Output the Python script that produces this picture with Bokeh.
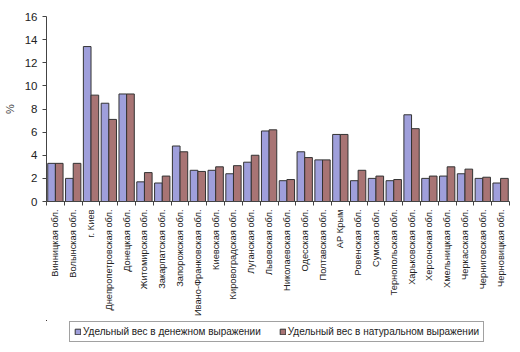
import math
from bokeh.plotting import figure
from bokeh.layouts import column
from bokeh.models import ColumnDataSource, FixedTicker, Range1d, Legend, LegendItem
from bokeh.embed import file_html
from bokeh.resources import INLINE

regions = ["Винницкая обл.", "Волынская обл.", "г. Киев", "Днепропетровская обл.",
           "Донецкая обл.", "Житомирская обл.", "Закарпатская обл.", "Запорожская обл.",
           "Ивано-Франковская обл.", "Киевская обл.", "Кировоградская обл.", "Луганская обл.",
           "Львовская обл.", "Николаевская обл.", "Одесская обл.", "Полтавская обл.",
           "АР Крым", "Ровенская обл.", "Сумская обл.", "Тернопольская обл.",
           "Харьковская обл.", "Херсонская обл.", "Хмельницкая обл.", "Черкасская обл.",
           "Черниговская обл.", "Черновицкая обл."]
money = [3.3, 2.0, 13.4, 8.5, 9.3, 1.7, 1.6, 4.8, 2.7, 2.7, 2.4, 3.4, 6.1,
         1.8, 4.3, 3.6, 5.8, 1.8, 2.0, 1.8, 7.5, 2.0, 2.2, 2.4, 2.0, 1.6]
natural = [3.3, 3.3, 9.2, 7.1, 9.3, 2.5, 2.2, 4.3, 2.6, 3.0, 3.1, 4.0, 6.2,
           1.9, 3.8, 3.6, 5.8, 2.7, 2.2, 1.9, 6.3, 2.2, 3.0, 2.8, 2.1, 2.0]
series_names = ["Удельный вес в денежном выражении", "Удельный вес в натуральном выражении"]
y_ticks = [0, 2, 4, 6, 8, 10, 12, 14, 16]

FONT = "Liberation Sans"
BLUE = "#9F9FDB"
RED = "#A87474"
EDGE = "#333333"
n = len(regions)
centers = [i + 0.5 for i in range(n)]
bw = 0.43
src = ColumnDataSource(dict(xm=[c - bw / 2 for c in centers], xn=[c + bw / 2 for c in centers],
                            money=money, natural=natural))

p = figure(width=520, height=320, output_backend="svg", toolbar_location=None,
           x_range=Range1d(0, n), y_range=Range1d(0, 16),
           min_border_left=43, min_border_right=11, min_border_top=16, min_border_bottom=119)
p.outline_line_color = None
p.grid.grid_line_color = None

p.vbar(x="xm", top="money", width=bw, source=src, fill_color=BLUE,
       line_color=EDGE, line_width=1)
p.vbar(x="xn", top="natural", width=bw, source=src, fill_color=RED,
       line_color=EDGE, line_width=1)

# y axis
p.yaxis.ticker = FixedTicker(ticks=y_ticks)
p.yaxis.axis_label = "%"
p.yaxis.axis_label_text_font = FONT
p.yaxis.axis_label_text_font_style = "normal"
p.yaxis.axis_label_text_font_size = "11px"
p.yaxis.axis_label_standoff = 6
p.yaxis.major_label_text_font = FONT
p.yaxis.major_label_text_font_size = "11.5px"
p.yaxis.major_label_text_color = "#222222"
p.yaxis.major_tick_in = 0
p.yaxis.major_tick_out = 4
p.yaxis.minor_tick_line_color = None
p.yaxis.axis_line_color = "#444444"
p.yaxis.major_tick_line_color = "#444444"

# x axis
p.xaxis.ticker = FixedTicker(ticks=centers, minor_ticks=list(range(n + 1)))
p.xaxis.major_label_overrides = {c: r for c, r in zip(centers, regions)}
p.xaxis.major_label_orientation = math.pi / 2
p.xaxis.major_label_text_font = FONT
p.xaxis.major_label_text_font_size = "9.3px"
p.xaxis.major_label_text_color = "#222222"
p.xaxis.major_label_standoff = 2
p.xaxis.major_tick_line_color = None
p.xaxis.minor_tick_in = 0
p.xaxis.minor_tick_out = 4
p.xaxis.minor_tick_line_color = "#444444"
p.xaxis.axis_line_color = "#444444"

# legend strip (its renderers use the same data, kept outside the strip's visible range)
pl = figure(width=520, height=32, output_backend="svg", toolbar_location=None,
            x_range=Range1d(n + 5, n + 6), y_range=Range1d(-2, -1),
            x_axis_location=None, y_axis_location=None, min_border=0)
pl.grid.grid_line_color = None
pl.outline_line_color = None
lr1 = pl.vbar(x="xm", top="money", width=bw, source=src, fill_color=BLUE, line_color=EDGE)
lr2 = pl.vbar(x="xn", top="natural", width=bw, source=src, fill_color=RED, line_color=EDGE)
legend = Legend(items=[LegendItem(label=series_names[0], renderers=[lr1]),
                       LegendItem(label=series_names[1], renderers=[lr2])],
                orientation="horizontal", location=(23, 10),
                label_text_font=FONT, label_text_font_size="10px",
                glyph_width=7, glyph_height=7, label_standoff=2, spacing=18,
                padding=4, margin=0, border_line_color="#444444",
                label_height=9, label_text_color="#222222",
                background_fill_alpha=1.0)
pl.add_layout(legend, "center")

layout = column(p, pl, spacing=0)
open("out.html", "w").write(file_html(layout, INLINE))
